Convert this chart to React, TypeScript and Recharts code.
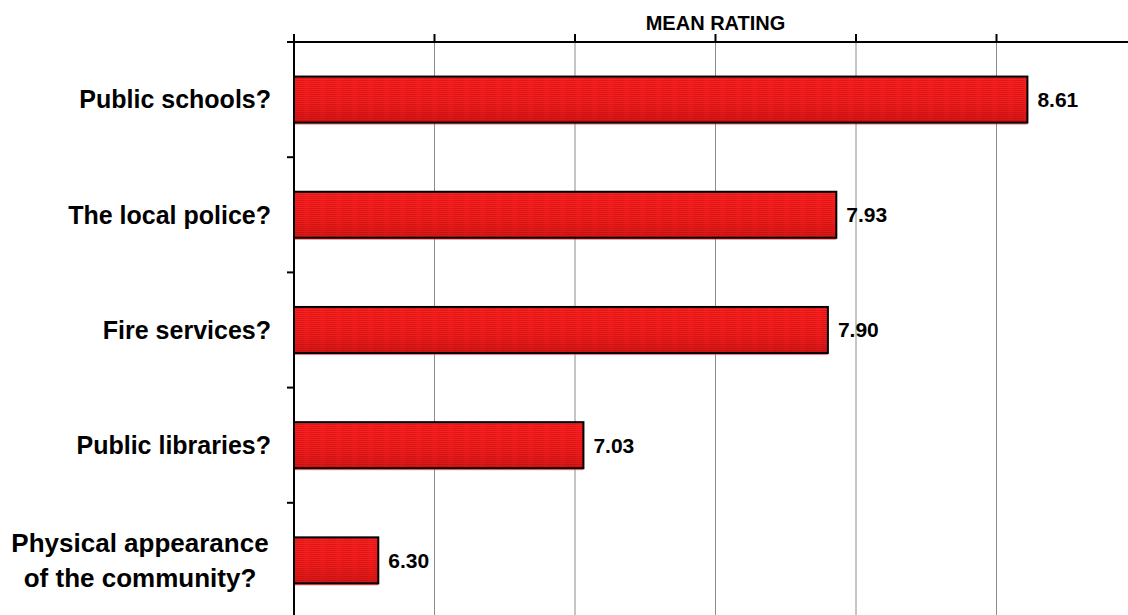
import React from 'react';
import { BarChart, Bar, XAxis, YAxis, CartesianGrid, LabelList } from 'recharts';

const services = [
  'Public schools?',
  'The local police?',
  'Fire services?',
  'Public libraries?',
  'Physical appearance\nof the community?',
];
const meanRatings = [8.61, 7.93, 7.9, 7.03, 6.3];
const ratingTicks = [6, 6.5, 7, 7.5, 8, 8.5, 9];

const data = services.map((name, i) => ({ name, value: meanRatings[i] }));

const FONT = 'Arial, "Liberation Sans", Helvetica, sans-serif';

const NoTick = () => <g />;

// category label plus the short tick marks at the band boundaries
const CategoryTick = (props: any) => {
  const { x, y, payload, index, visibleTicksCount } = props;
  const half = payload.offset || 57.5;
  const axisX = x + 23;
  const lines = String(payload.value).split('\n');
  const lineH = 35;
  const start = -((lines.length - 1) * lineH) / 2;
  const multi = lines.length > 1;
  const tx = multi ? x - 131 : x;
  return (
    <g>
      <line x1={axisX - 7} x2={axisX} y1={y - half} y2={y - half} stroke="#000" strokeWidth={2} />
      {index === visibleTicksCount - 1 && (
        <line x1={axisX - 7} x2={axisX} y1={y + half} y2={y + half} stroke="#000" strokeWidth={2} />
      )}
      <text
        x={tx}
        y={y}
        textAnchor={multi ? 'middle' : 'end'}
        fontFamily={FONT}
        fontWeight="bold"
        fontSize={multi ? 26 : 25}
        fill="#000"
      >
        {lines.map((l, i) => (
          <tspan key={i} x={tx} y={y + start + i * lineH} dy="0.355em">
            {l}
          </tspan>
        ))}
      </text>
    </g>
  );
};

// striped red bar with dark outline
const StripedBar = (props: any) => {
  const { x, y, width, height } = props;
  if (!width || width <= 0) return null;
  return (
    <g>
      <rect x={x} y={y} width={width} height={height + 2} fill="#ff1a1a" opacity={0.6} />
      <rect x={x} y={y} width={width} height={height} fill="url(#barStripes)" />
      <rect x={x} y={y} width={width} height={height} fill="url(#barShade)" />
      <rect x={x} y={y} width={width} height={height} fill="none" stroke="#000" strokeWidth={2} />
    </g>
  );
};

const AxisTitle = (props: any) => {
  const { viewBox } = props;
  return (
    <text
      x={viewBox.x + viewBox.width / 2}
      y={30}
      textAnchor="middle"
      fontFamily={FONT}
      fontWeight="bold"
      fontSize={20}
      fill="#000"
    >
      MEAN RATING
    </text>
  );
};

export default function App() {
  return (
    <div style={{ position: 'absolute', left: 0, top: 0, width: 1128, height: 615, overflow: 'hidden', background: '#fff' }}>
      <BarChart
        width={1160}
        height={640}
        data={data}
        layout="vertical"
        margin={{ top: 0, right: 23, left: 0, bottom: 22 }}
        barCategoryGap="30%"
      >
        <defs>
          <pattern id="barStripes" patternUnits="userSpaceOnUse" width="16" height="2">
            <rect x="0" y="0" width="16" height="1" fill="#ff0808" />
            <rect x="0" y="1" width="16" height="1" fill="#d63030" />
            <rect x="0" y="0" width="5" height="2" fill="#ff2020" opacity="0.35" />
          </pattern>
          <linearGradient id="barShade" x1="0" y1="0" x2="0" y2="1">
            <stop offset="0%" stopColor="#ff0000" stopOpacity={0} />
            <stop offset="60%" stopColor="#a00000" stopOpacity={0.1} />
            <stop offset="100%" stopColor="#800000" stopOpacity={0.3} />
          </linearGradient>
        </defs>
        <CartesianGrid horizontal={false} stroke="#8c8c8c" strokeWidth={1} />
        <XAxis
          type="number"
          orientation="top"
          domain={[6, 9]}
          ticks={ratingTicks}
          allowDataOverflow
          height={42}
          tick={<NoTick />}
          tickSize={8}
          axisLine={{ stroke: '#000', strokeWidth: 2 }}
          tickLine={{ stroke: '#000', strokeWidth: 2 }}
          label={{ content: AxisTitle }}
        />
        <YAxis
          type="category"
          dataKey="name"
          width={294}
          axisLine={{ stroke: '#000', strokeWidth: 2 }}
          tickLine={false}
          tickSize={0}
          tickMargin={23}
          tick={<CategoryTick />}
          interval={0}
        />
        <Bar dataKey="value" shape={<StripedBar />} isAnimationActive={false}>
          <LabelList
            dataKey="value"
            position="right"
            offset={10}
            formatter={(v: any) => Number(v).toFixed(2)}
            style={{ fontFamily: FONT, fontWeight: 'bold', fontSize: 21, fill: '#000' }}
          />
        </Bar>
      </BarChart>
    </div>
  );
}
